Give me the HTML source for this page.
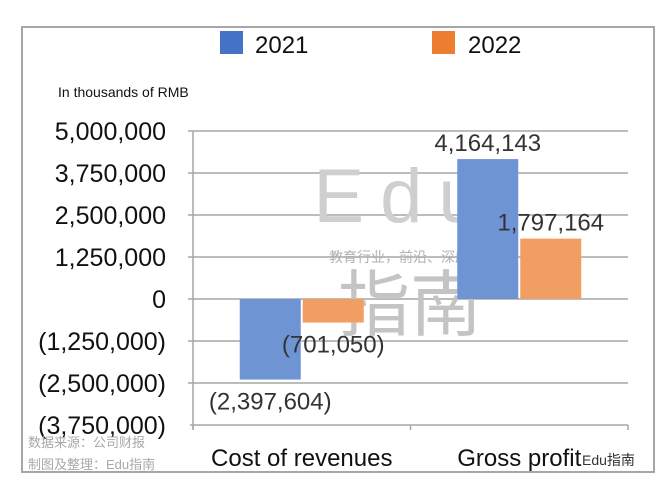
<!DOCTYPE html>
<html><head><meta charset="utf-8"><style>
html,body{margin:0;padding:0;background:#fff;}
svg text{font-family:"Liberation Sans","Noto Sans CJK SC",sans-serif;}
</style></head><body>
<svg width="668" height="488" viewBox="0 0 668 488">
<rect x="22" y="27" width="632" height="445" fill="#fff" stroke="#a6a6a6" stroke-width="2"/>
<g id="grid"></g>
<line x1="193" y1="131" x2="193" y2="429" stroke="#a6a6a6" stroke-width="1.5"/>
<g id="ylabels"></g>
<g fill="#bdbdbd">
<text x="405" y="222" font-size="76" text-anchor="middle" letter-spacing="16" fill="#cfcfcf">Edu</text>
<text x="420" y="262" font-size="14" text-anchor="middle" fill="#b0b0b0">教育行业，前沿、深度、独家</text>
<text x="410" y="330" font-size="72" text-anchor="middle" fill="#c4c4c4">指南</text>
</g>
<g id="bars"></g>
<g id="vlabels"></g>
<g id="xlabels"></g>
<g>
<rect x="220" y="31" width="23" height="23" fill="#4472c4"/>
<text x="255" y="53" font-size="24" fill="#111">2021</text>
<rect x="432" y="31" width="23" height="23" fill="#ed7d31"/>
<text x="468" y="53" font-size="24" fill="#111">2022</text>
</g>
<text x="58" y="97" font-size="14" fill="#111">In thousands of RMB</text>
<text x="28" y="447" font-size="13" fill="#a8a8a8">数据来源：公司财报</text>
<text x="28" y="469" font-size="13" fill="#a8a8a8">制图及整理：Edu指南</text>
<text x="582" y="465" font-size="14" fill="#333">Edu指南</text>
</svg>
<script>
const categories=["Cost of revenues","Gross profit"];
const series2021=[-2397604,4164143];
const series2022=[-701050,1797164];
const labels2021=["(2,397,604)","4,164,143"];
const labels2022=["(701,050)","1,797,164"];
const yTicks=[5000000,3750000,2500000,1250000,0,-1250000,-2500000,-3750000];
const yTickLabels=["5,000,000","3,750,000","2,500,000","1,250,000","0","(1,250,000)","(2,500,000)","(3,750,000)"];
const NS="http://www.w3.org/2000/svg";
const y=v=>299-v*42/1250000;
const x0=193,catW=(628-193)/categories.length;
const xc=i=>x0+catW*i+catW/2;
function mk(tag,attrs,parent,text){const e=document.createElementNS(NS,tag);for(const k in attrs)e.setAttribute(k,attrs[k]);if(text!=null)e.textContent=text;document.getElementById(parent).appendChild(e);return e;}
yTicks.forEach((t,i)=>{
 const l=mk('line',{x1:i===yTicks.length-1?190:188,x2:628,y1:y(t),y2:y(t),stroke:'#a6a6a6','stroke-width':1.5},'grid');
 
 
 const tx=mk('text',{x:166,y:y(t)+9,'font-size':25,'text-anchor':'end',fill:'#111'},'ylabels',yTickLabels[i]);
 
 
});
for(let i=0;i<=categories.length;i++){
 const tk=mk('line',{x1:x0+catW*i,x2:x0+catW*i,y1:425,y2:430,stroke:'#a6a6a6','stroke-width':1.5},'grid');
 
 
}
const bw=61;
categories.forEach((c,i)=>{
 const cx=xc(i);
 [[series2021,'#6f94d3',-bw-1,labels2021,'bar-2021'],[series2022,'#f19e62',1,labels2022,'bar-2022']].forEach(([s,col,off,lab,nm])=>{
  const v=s[i];const top=Math.min(y(v),y(0)),h=Math.abs(y(v)-y(0));
  const r=mk('rect',{x:cx+off,y:top,width:bw,height:h,fill:col},'bars');
  
  
  let lx,ly;
  if(v>=0){ly=y(v)-8;lx=cx+off+bw/2;}
  else{ly=y(v)+30;lx=cx+off+bw/2;}
  const t=mk('text',{x:lx,y:ly,'font-size':24,'text-anchor':'middle',fill:'#333'},'vlabels',lab[i]);
  
  
 });
 const xl=mk('text',{x:cx,y:466,'font-size':24,'text-anchor':'middle',fill:'#111'},'xlabels',c);
 
 
});
</script>
</body></html>
